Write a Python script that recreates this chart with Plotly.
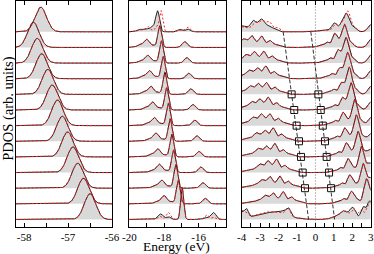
import numpy as np
import plotly.graph_objects as go

N_ROWS = 13
BASE0 = 0.45
Y_TOP = 14.42
baselines = [BASE0 + (N_ROWS - 1 - i) for i in range(N_ROWS)]  # rows listed top -> bottom

# ---------------- Panel 1 : -58 .. -56 eV (single peak per row) ----------------
p1_center = [-57.62, -57.79, -57.70, -57.60, -57.46, -57.36, -57.24, -57.13, -57.01, -56.89, -56.78, -56.65, -56.50]
p1_height = [1.58, 1.62, 1.58, 1.60, 1.60, 1.60, 1.64, 1.60, 1.60, 1.64, 1.60, 1.64, 1.65]
p1_sigma = 0.13

# ---------------- Panel 2 : -20 .. -14.4 eV ----------------
p2_main_E = [-18.37, -18.25, -18.15, -18.05, -17.95, -17.85, -17.75, -17.65, -17.55, -17.45, -17.32, -17.18, -16.95]
p2_main_h = [1.30, 1.38, 1.42, 1.42, 1.42, 1.42, 1.45, 1.45, 1.45, 1.45, 1.50, 1.50, 2.05]
p2_left_E = [-18.66, -19.00, -18.92, -18.83, -18.75, -18.65, -18.55, -18.45, -18.35, -18.25, -18.12, -17.98, -18.20]
p2_left_h = [0.30, 0.48, 0.45, 0.48, 0.48, 0.48, 0.48, 0.48, 0.48, 0.48, 0.48, 0.48, 0.35]
p2_right_E = [-16.63, -16.80, -16.68, -16.57, -16.45, -16.33, -16.22, -16.10, -15.98, -15.87, -15.75, -15.62, -15.15]
p2_right_h = [0.17, 0.37, 0.35, 0.35, 0.35, 0.35, 0.35, 0.35, 0.35, 0.35, 0.35, 0.35, 0.45]
# special red curves (top and bottom rows)
p2_red_top = [(-18.17, 1.35, 0.10), (-18.45, 0.25, 0.10), (-18.94, 0.33, 0.15), (-19.40, 0.12, 0.15),
              (-16.63, 0.30, 0.15), (-17.10, 0.10, 0.12)]
p2_black_top_extra = [(-19.04, 0.18, 0.15), (-19.43, 0.15, 0.15), (-17.11, 0.15, 0.12)]
p2_red_bottom = [(-16.95, 2.05, 0.09), (-18.25, 0.20, 0.12), (-17.75, 0.45, 0.12),
                 (-15.55, 0.30, 0.12), (-15.15, 0.15, 0.10)]
p2_black_bottom_extra = [(-17.75, 0.18, 0.12), (-15.60, 0.12, 0.15)]

# ---------------- Panel 3 : -4 .. 3 eV ----------------
# rows 2..12 (valence peaks A, B ; conduction peaks M, P)
p3_A_E = [-3.45, -3.30, -3.15, -3.10, -3.01, -2.92, -2.74, -2.65, -2.56, -2.47, -2.29]
p3_A_h = [0.80, 0.78, 0.75, 0.75, 0.75, 0.80, 0.75, 0.75, 0.80, 0.80, 0.75]
p3_B_E = [-2.92, -2.80, -2.69, -2.65, -2.56, -2.47, -2.29, -2.20, -2.11, -1.93, -1.75]
p3_B_h = [0.90, 0.92, 0.96, 0.90, 0.96, 0.90, 1.00, 1.00, 1.00, 0.95, 0.95]
p3_M_E = [1.04, 1.22, 1.31, 1.40, 1.46, 1.49, 1.58, 1.67, 1.76, 1.85, 1.94]
p3_M_h = [0.85, 0.80, 0.64, 0.70, 0.75, 0.80, 0.80, 0.85, 0.83, 0.80, 0.75]
p3_P_E = [1.58, 1.67, 1.76, 1.85, 1.94, 2.13, 2.22, 2.31, 2.49, 2.58, 2.76]
p3_P_h = [1.40, 1.45, 1.50, 1.55, 1.60, 1.65, 1.65, 1.60, 1.65, 1.55, 1.50]
p3_edge_h = [0.55, 0.55, 0.55, 0.55, 0.55, 0.55, 0.50, 0.50, 0.45, 0.40, 0.30]

p3_black_top = [(-4.00, 0.35, 0.25), (-3.37, 0.45, 0.14), (-2.92, 0.55, 0.15), (-3.15, 0.30, 0.40),
                (-2.50, 0.30, 0.18), (-2.15, 0.12, 0.12),
                (0.45, 0.12, 0.30), (1.04, 0.55, 0.15), (1.42, 0.40, 0.12), (1.68, 1.15, 0.15),
                (2.05, 0.30, 0.15), (3.05, 0.50, 0.18)]
p3_red_top = [(-4.00, 0.30, 0.25), (-3.30, 0.30, 0.14), (-2.90, 0.45, 0.15), (-3.10, 0.30, 0.40),
              (-2.50, 0.55, 0.16), (-2.05, 0.25, 0.14),
              (0.45, 0.10, 0.30), (1.10, 0.50, 0.15), (1.45, 0.50, 0.12), (1.75, 1.30, 0.14),
              (2.10, 0.30, 0.15), (3.05, 0.45, 0.18)]
p3_black_bottom = [(-4.00, 0.40, 0.15), (-3.73, 0.50, 0.10), (-2.40, 0.45, 0.80), (-1.45, 0.45, 0.12),
                   (-1.75, 0.20, 0.20),
                   (1.20, 0.20, 0.30), (1.50, 0.25, 0.15), (1.80, 0.30, 0.30), (2.04, 0.55, 0.15),
                   (2.58, 0.75, 0.12), (2.95, 1.20, 0.15)]
p3_red_bottom = [(-4.00, 0.50, 0.15), (-3.73, 0.25, 0.10), (-2.40, 0.50, 0.80), (-1.50, 0.50, 0.12),
                 (1.20, 0.20, 0.30), (1.55, 0.30, 0.15), (1.80, 0.25, 0.30), (2.10, 0.45, 0.15),
                 (2.50, 0.60, 0.12), (2.80, 0.50, 0.10), (3.00, 1.00, 0.12)]

# band-edge markers (rows 5..11 from top) and guide lines
sq_rows = [5, 6, 7, 8, 9, 10, 11]
sq_vbm = [-1.29, -1.15, -1.02, -0.89, -0.78, -0.69, -0.565]
sq_cbm = [0.16, 0.29, 0.40, 0.52, 0.61, 0.74, 0.85]
guide_vbm = [-1.75, -0.37]   # at top row / bottom row baselines
guide_cbm = [-0.25, 1.04]

x1_ticks = [-58, -57.5, -57, -56.5, -56]
x1_text = ["-58", "", "-57", "", "-56"]
x2_ticks = [-20, -19, -18, -17, -16, -15]
x2_text = ["-20", "", "-18", "", "-16", ""]
x3_ticks = [-4, -3.5, -3, -2.5, -2, -1.5, -1, -0.5, 0, 0.5, 1, 1.5, 2, 2.5, 3]
x3_text = ["-4", "", "-3", "", "-2", "", "-1", "", "0", "", "1", "", "2", "", "3"]

FILL = "#d9d9d9"
BLACK = "#222222"
RED = "#ff1a1a"


def dos(E, peaks):
    y = np.zeros_like(E)
    for c, h, s in peaks:
        y += h * np.exp(-0.5 * ((E - c) / s) ** 2)
    return y


# build per-row peak lists
p1_rows = [[(c, h, p1_sigma)] for c, h in zip(p1_center, p1_height)]
p1_black, p1_red = p1_rows, p1_rows

p2_black, p2_red = [], []
for i in range(N_ROWS):
    m, mh = p2_main_E[i], p2_main_h[i]
    sig = 0.09 if i == N_ROWS - 1 else 0.11
    pk = [(m, mh, sig), (p2_left_E[i], p2_left_h[i], 0.15), (p2_right_E[i], p2_right_h[i], 0.15)]
    if 0 < i < N_ROWS - 1:
        pk += [(p2_left_E[i] - 0.35, 0.15, 0.22), ((p2_left_E[i] + m) / 2, 0.12, 0.15)]
    if i == 0:
        pk += p2_black_top_extra
        p2_red.append(p2_red_top)
    elif i == N_ROWS - 1:
        pk += p2_black_bottom_extra
        p2_red.append(p2_red_bottom)
    else:
        p2_red.append(pk)
    p2_black.append(pk)

p3_black, p3_red = [p3_black_top], [p3_red_top]
for j in range(11):
    A, Ah, B, Bh = p3_A_E[j], p3_A_h[j], p3_B_E[j], p3_B_h[j]
    M, Mh, P, Ph = p3_M_E[j], p3_M_h[j], p3_P_E[j], p3_P_h[j]
    pk = [(A - 0.2, 0.32, 0.7), (A - 0.45, 0.25, 0.13), (A, Ah - 0.35, 0.13), (B, Bh - 0.35, 0.13),
          (B + 0.45, 0.35, 0.13), (B + 0.85, 0.16, 0.2),
          (M - 0.75, 0.12, 0.2), (M - 0.4, 0.3, 0.12), (M, Mh, 0.13), (M + 0.28, 0.3, 0.15),
          (P, Ph, 0.14), (P + 0.35, 0.3, 0.15), (3.05, p3_edge_h[j], 0.18)]
    p3_black.append(pk)
    p3_red.append(pk)
p3_black.append(p3_black_bottom)
p3_red.append(p3_red_bottom)

panels = [
    (np.linspace(-58.19, -56.0, 300), p1_black, p1_red, "x", "y"),
    (np.linspace(-20.04, -14.42, 400), p2_black, p2_red, "x2", "y2"),
    (np.linspace(-4.0, 3.0, 500), p3_black, p3_red, "x3", "y3"),
]

fig = go.Figure()
for E, blk, red, xa, ya in panels:
    # fills first
    for i in range(N_ROWS):
        b = baselines[i]
        d = dos(E, blk[i])
        fig.add_trace(go.Scatter(x=np.concatenate([E, E[::-1]]),
                                 y=np.concatenate([b + d, np.full_like(E, b)]),
                                 fill="toself", fillcolor=FILL, line=dict(width=0),
                                 mode="lines", hoverinfo="skip", showlegend=False,
                                 xaxis=xa, yaxis=ya))
    for i in range(N_ROWS):
        b = baselines[i]
        fig.add_trace(go.Scatter(x=E, y=b + dos(E, blk[i]), mode="lines",
                                 line=dict(color=BLACK, width=1), showlegend=False,
                                 hoverinfo="skip", xaxis=xa, yaxis=ya))
        fig.add_trace(go.Scatter(x=E, y=b + dos(E, red[i]), mode="lines",
                                 line=dict(color=RED, width=1, dash="2px,2px"), showlegend=False,
                                 hoverinfo="skip", xaxis=xa, yaxis=ya))

# panel 3 extras
fig.add_trace(go.Scatter(x=[0, 0], y=[0, Y_TOP], mode="lines",
                         line=dict(color="#555555", width=0.8, dash="1px,2px"),
                         showlegend=False, hoverinfo="skip", xaxis="x3", yaxis="y3"))
for g in (guide_vbm, guide_cbm):
    fig.add_trace(go.Scatter(x=g, y=[baselines[0], baselines[-1]], mode="lines",
                             line=dict(color="#333333", width=1, dash="4px,2px"),
                             showlegend=False, hoverinfo="skip", xaxis="x3", yaxis="y3"))
sq_y = [baselines[r - 1] for r in sq_rows]
fig.add_trace(go.Scatter(x=sq_vbm + sq_cbm, y=sq_y + sq_y, mode="markers",
                         marker=dict(symbol="square-open", size=7, color="#111111", line=dict(width=1)),
                         showlegend=False, hoverinfo="skip", xaxis="x3", yaxis="y3"))

W, H = 374, 254
ydom = [1 - 226.5 / H, 1 - 1.0 / H]
tickfont = dict(family="Liberation Serif", size=11, color="black")


def xax(dom, rng, tv, tt, anchor):
    return dict(domain=dom, range=rng, tickvals=tv, ticktext=tt, ticks="inside", ticklen=4,
                tickwidth=1, tickcolor="black", showline=True, linecolor="black", linewidth=1,
                mirror="ticks", showgrid=False, zeroline=False, tickfont=tickfont, anchor=anchor,
                automargin=False)


def yax(anchor):
    return dict(domain=ydom, range=[0, Y_TOP], showline=True, linecolor="black", linewidth=1,
                mirror=True, ticks="", showticklabels=False, showgrid=False, zeroline=False,
                anchor=anchor, automargin=False)


fig.update_layout(
    template="none",
    width=W, height=H, margin=dict(l=0, r=0, t=0, b=0, pad=0),
    paper_bgcolor="white", plot_bgcolor="white",
    xaxis=xax([15.7 / W, 112 / W], [-58.19, -56.0], x1_ticks, x1_text, "y"),
    xaxis2=xax([128.7 / W, 226 / W], [-20.04, -14.42], x2_ticks, x2_text, "y2"),
    xaxis3=xax([241.7 / W, 370.7 / W], [-4.0, 3.0], x3_ticks, x3_text, "y3"),
    yaxis=yax("x"), yaxis2=yax("x2"), yaxis3=yax("x3"),
    annotations=[
        dict(text="Energy (eV)", x=176.7 / W, y=1 - 246.5 / H, xref="paper", yref="paper",
             xanchor="center", yanchor="middle", showarrow=False,
             font=dict(family="Liberation Serif", size=13.5, color="black")),
        dict(text="PDOS (arb. units)", x=8.3 / W, y=1 - 108.5 / H, xref="paper", yref="paper",
             xanchor="center", yanchor="middle", showarrow=False, textangle=-90,
             font=dict(family="Liberation Serif", size=14.5, color="black")),
    ],
)

fig.write_html("out.html", config={"displayModeBar": False},
               post_script="document.body.style.margin='0';document.body.style.overflow='hidden';")
